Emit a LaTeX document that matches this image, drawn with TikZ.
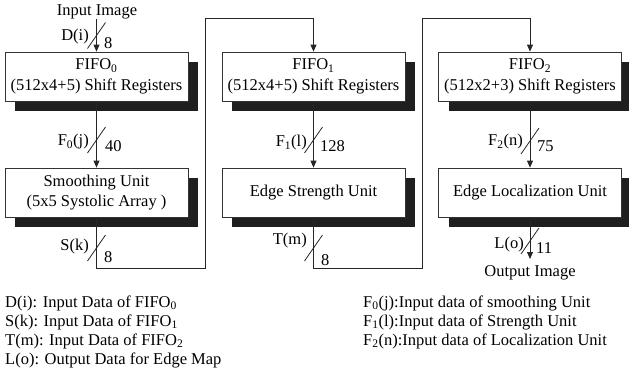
\documentclass[tikz,border=0pt]{standalone}
\usepackage{fontspec}
\setmainfont{Liberation Serif}
\usetikzlibrary{arrows.meta,shadows,calc}
\begin{document}
\begin{tikzpicture}[x=1pt,y=1pt,
  every node/.style={font=\fontsize{16.5pt}{20.5pt}\selectfont, inner sep=0pt},
  unit/.style={draw=black!80, line width=0.8pt, fill=white, minimum width=183pt, minimum height=49pt, align=center,
    general shadow={fill=black!88, shadow xshift=10pt, shadow yshift=-10pt}},
  conn/.style={draw=black!85, line width=0.8pt},
  arr/.style={conn, -{Triangle[length=7pt,width=6pt]}},
  slash/.style={draw=black!85, line width=0.8pt},
  lbl/.style={anchor=east},
  wid/.style={anchor=west},
  leg/.style={anchor=base west}
]
\useasboundingbox (0,0) rectangle (629,-389);
\clip (0,0) rectangle (629,-389);

% boxes
\node[unit] (f0) at (96.5,-76.5) {FIFO\textsubscript{0}\\(512x4+5) Shift Registers};
\node[unit] (sm) at (96.5,-192.5) {Smoothing Unit\\(5x5 Systolic Array )};
\node[unit] (f1) at (313.5,-76.5) {FIFO\textsubscript{1}\\(512x4+5) Shift Registers};
\node[unit] (es) at (313.5,-192.5) {Edge Strength Unit};
\node[unit] (f2) at (530,-76.5) {FIFO\textsubscript{2}\\(512x2+3) Shift Registers};
\node[unit] (el) at (530,-192.5) {Edge Localization Unit};

% input / output
\node (inimg) at (97,-12) {Input Image};
\coordinate (in) at (96.5,-19);
\coordinate (out) at (530,-259);
\node[anchor=north] (outimg) at (530,-265) {Output Image};

\coordinate (b1) at (205,-268);
\coordinate (t1) at (313.5,-18);
\coordinate (b2) at (422,-268);
\coordinate (t2) at (530,-18);

% connectors
\draw[arr] (in) -- (f0.north);
\draw[arr] (f0.south) -- (sm.north);
\draw[arr] (sm.south) |- (b1) |- (t1) -- (f1.north);
\draw[arr] (f1.south) -- (es.north);
\draw[arr] (es.south) |- (b2) |- (t2) -- (f2.north);
\draw[arr] (f2.south) -- (el.north);
\draw[arr] (el.south) -- (out);

% bus slashes
\foreach \x/\y in {96.5/-35.5, 96.5/-140, 96.5/-248, 313.5/-140, 313.5/-248, 530/-141, 530/-241}
  \draw[slash] (\x-9,\y-13) -- (\x+9,\y+13);

% bus labels
\node[lbl] (ld) at (89,-37) {D(i)};
\node[wid] (wd) at (104,-43) {8};
\node[lbl] (lf0) at (89,-142) {F\textsubscript{0}(j)};
\node[wid] (wf0) at (105,-146) {40};
\node[lbl] (ls) at (89,-247) {S(k)};
\node[wid] (ws) at (104,-257) {8};
\node[lbl] (lf1) at (307,-143) {F\textsubscript{1}(l)};
\node[wid] (wf1) at (320,-146) {128};
\node[lbl] (lt) at (307,-241) {T(m)};
\node[wid] (wt) at (321,-260) {8};
\node[lbl] (lf2) at (523,-142) {F\textsubscript{2}(n)};
\node[wid] (wf2) at (537,-146) {75};
\node[lbl] (ll) at (524,-245) {L(o)};
\node[wid] (wl) at (536,-248) {11};

% legend
\node[leg] (g1) at (5,-307) {D(i): Input Data of FIFO\textsubscript{0}};
\node[leg] (g2) at (5,-326) {S(k): Input Data of FIFO\textsubscript{1}};
\node[leg] (g3) at (5,-345) {T(m): Input Data of FIFO\textsubscript{2}};
\node[leg] (g4) at (5,-364) {L(o): Output Data for Edge Map};
\node[leg] (g5) at (363,-307) {F\textsubscript{0}(j):Input data of smoothing Unit};
\node[leg] (g6) at (363,-326) {F\textsubscript{1}(l):Input data of Strength Unit};
\node[leg] (g7) at (363,-345) {F\textsubscript{2}(n):Input data of Localization Unit};
\end{tikzpicture}
\end{document}
